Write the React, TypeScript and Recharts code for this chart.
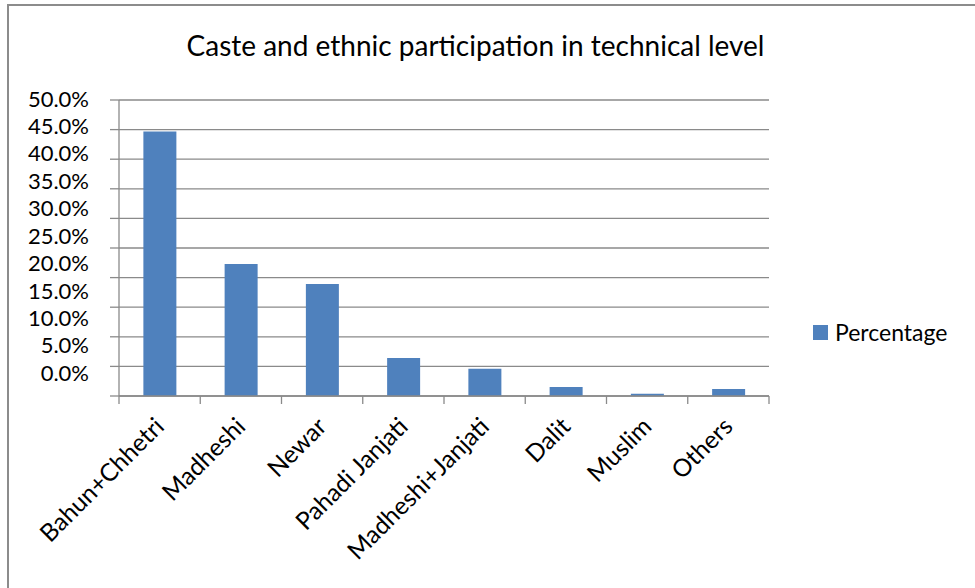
import { BarChart, Bar, XAxis, YAxis, CartesianGrid, Legend } from "recharts";

const categories = [
  "Bahun+Chhetri",
  "Madheshi",
  "Newar",
  "Pahadi Janjati",
  "Madheshi+Janjati",
  "Dalit",
  "Muslim",
  "Others",
];
const percentage = [44.7, 22.3, 18.9, 6.4, 4.6, 1.5, 0.4, 1.2];
const yTicks = [0, 5, 10, 15, 20, 25, 30, 35, 40, 45, 50];

const data = categories.map((name, i) => ({ name, value: percentage[i] }));

const FONT = "Lato, 'Open Sans', sans-serif";
const GRID = "#8a8a8a";
const BAR = "#4f81bd";
const PLOT_TOP = 100;

// value labels run on a slightly tighter pitch than the gridlines
function YTick(props: any) {
  const { x, y, payload } = props;
  const ly = PLOT_TOP - 1.5 + (y - PLOT_TOP) * 0.927;
  return (
    <text x={x} y={ly} dy={8} textAnchor="end" fontFamily={FONT} fontSize={22} fill="#000">
      {payload.value.toFixed(1)}%
    </text>
  );
}

// category label plus tick marks on the boundaries between categories
function XTick(props: any) {
  const { x, y, payload, width, visibleTicksCount, index } = props;
  const step = width / visibleTicksCount;
  const ax = x + 6;
  const ay = y + 32;
  const left = x - step / 2;
  const right = x + step / 2;
  return (
    <g>
      <line x1={left} x2={left} y1={y} y2={y + 8} stroke={GRID} strokeWidth={1.3} />
      {index === visibleTicksCount - 1 && (
        <line x1={right} x2={right} y1={y} y2={y + 8} stroke={GRID} strokeWidth={1.3} />
      )}
      <text
        x={ax}
        y={ay}
        textAnchor="end"
        transform={`rotate(-45 ${ax} ${ay})`}
        fontFamily={FONT}
        fontSize={24.5}
        fill="#000"
      >
        {payload.value}
      </text>
    </g>
  );
}

function LegendBox(props: any) {
  const item = props.payload?.[0];
  return (
    <div style={{ display: "flex", alignItems: "center", fontFamily: FONT, fontSize: 23, color: "#000" }}>
      <span style={{ width: 15, height: 15, background: BAR, marginRight: 7, display: "inline-block" }} />
      <span>{item ? item.value : "Percentage"}</span>
    </div>
  );
}

export default function App() {
  return (
    <div style={{ position: "relative", width: 975, height: 588, overflow: "hidden", background: "#fff" }}>
      <style>{`body{margin:0}`}</style>
      <div
        style={{
          position: "absolute",
          left: 7,
          top: 4,
          width: 1000,
          height: 1000,
          borderTop: "2px solid #8c8c8c",
          borderLeft: "2px solid #8c8c8c",
        }}
      />
      <div
        style={{
          position: "absolute",
          left: 0,
          top: 31,
          width: 951,
          textAlign: "center",
          fontFamily: FONT,
          fontSize: 28,
          lineHeight: "28px",
          color: "#000",
        }}
      >
        Caste and ethnic participation in technical level
      </div>
      <div style={{ position: "absolute", left: 0, top: 0 }}>
        <BarChart
          width={975}
          height={588}
          data={data}
          margin={{ top: PLOT_TOP, right: 206, bottom: 0, left: 0 }}
          barCategoryGap="30%"
        >
          <CartesianGrid vertical={false} stroke={GRID} strokeWidth={1.3} />
          <XAxis
            dataKey="name"
            interval={0}
            tickLine={false}
            stroke={GRID}
            strokeWidth={1.3}
            tickSize={0}
            tickMargin={0}
            height={192}
            tick={<XTick />}
          />
          <YAxis
            domain={[0, 50]}
            ticks={yTicks}
            width={119}
            tickSize={9}
            tickMargin={21}
            stroke={GRID}
            strokeWidth={1.3}
            tick={<YTick />}
          />
          <Legend
            layout="vertical"
            align="center"
            verticalAlign="middle"
            content={<LegendBox />}
            wrapperStyle={{ left: 813, top: 318, width: 160 }}
          />
          <Bar dataKey="value" name="Percentage" fill={BAR} isAnimationActive={false} />
        </BarChart>
      </div>
    </div>
  );
}
